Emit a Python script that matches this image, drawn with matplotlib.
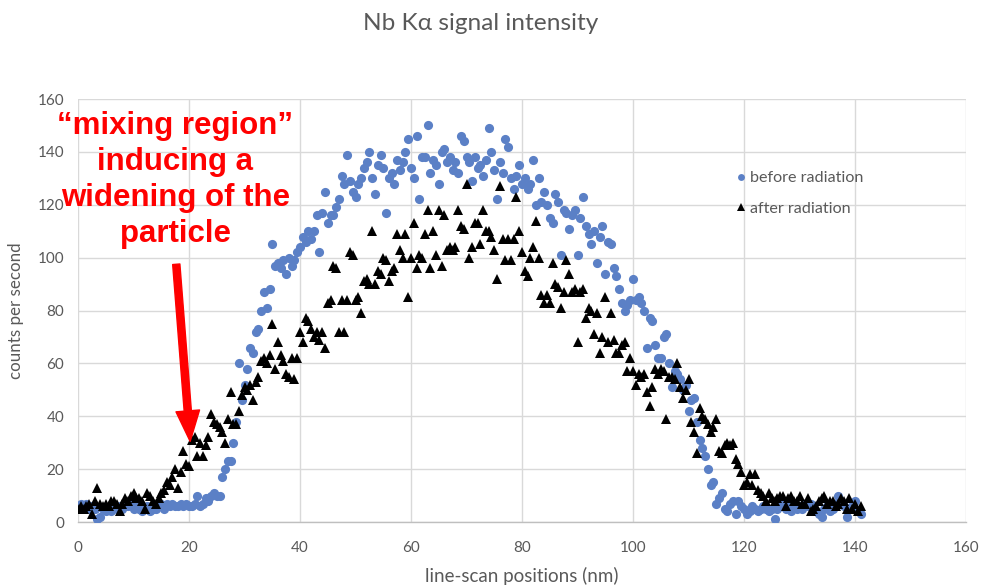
import numpy as np
import matplotlib
matplotlib.use("Agg")
import matplotlib.pyplot as plt

# ---------------- data ----------------
positions = np.arange(0, 141.01, 0.5)  # line-scan positions (nm)

before_radiation = [
    6, 7, 6, 7, 5, 6, 5, 1, 2, 5, 4, 5, 4, 6, 5, 6, 5, 6, 6, 7,
    5, 6, 5, 4, 5, 6, 4, 5, 5, 6, 7, 5, 7, 6, 7, 6, 6, 7, 6, 7,
    6, 6, 7, 10, 6, 7, 9, 8, 10, 11, 10, 10, 17, 20, 23, 23, 30, 38, 60, 46,
    52, 58, 66, 64, 72, 73, 80, 87, 81, 88, 105, 97, 98, 96, 99, 94, 100, 97, 99, 102,
    104, 108, 106, 110, 107, 110, 116, 102, 117, 125, 113, 116, 116, 119, 122, 131, 128, 139, 129, 125,
    123, 128, 130, 134, 136, 140, 130, 124, 135, 139, 134, 117, 130, 132, 128, 137, 133, 136, 140, 145,
    134, 130, 146, 122, 138, 138, 150, 132, 137, 135, 128, 140, 141, 136, 138, 133, 136, 132, 146, 144,
    138, 136, 129, 138, 134, 135, 131, 137, 149, 140, 133, 122, 136, 132, 145, 142, 130, 126, 131, 135,
    128, 130, 126, 128, 137, 120, 130, 121, 125, 120, 115, 113, 124, 121, 101, 118, 117, 111, 116, 118,
    101, 115, 123, 112, 109, 105, 110, 98, 108, 112, 94, 106, 105, 96, 93, 88, 83, 80, 82, 84,
    92, 84, 85, 83, 80, 66, 77, 76, 67, 62, 62, 70, 71, 60, 51, 57, 56, 54, 50, 52,
    42, 46, 47, 38, 31, 28, 25, 20, 14, 15, 7, 9, 11, 5, 4, 7, 8, 3, 8, 6,
    5, 3, 4, 6, 5, 4, 5, 6, 5, 4, 5, 1, 5, 6, 7, 5, 6, 4, 6, 5,
    6, 5, 7, 6, 7, 5, 4, 3, 2, 5, 6, 4, 5, 7, 10, 8, 6, 2, 5, 6,
    8, 4, 3,
]

after_radiation = [
    5, 6, 5, 6, 7, 3, 8, 13, 7, 6, 7, 6, 8, 8, 7, 4, 7, 9, 8, 10,
    11, 9, 9, 8, 5, 11, 10, 8, 7, 9, 11, 12, 15, 14, 17, 20, 13, 19, 27, 22,
    21, 31, 32, 25, 30, 25, 29, 32, 41, 38, 37, 36, 34, 30, 39, 49, 37, 37, 42, 48,
    51, 50, 52, 46, 53, 55, 61, 62, 60, 63, 75, 58, 68, 63, 61, 56, 55, 62, 54, 62,
    72, 68, 77, 76, 73, 70, 72, 69, 72, 66, 83, 84, 97, 96, 72, 84, 72, 84, 102, 101,
    84, 85, 79, 91, 92, 90, 110, 90, 95, 94, 100, 99, 91, 95, 96, 109, 103, 100, 109, 85,
    100, 113, 96, 101, 100, 109, 118, 96, 110, 101, 118, 97, 116, 103, 104, 103, 104, 118, 112, 111,
    128, 100, 104, 113, 113, 105, 118, 110, 110, 108, 103, 92, 127, 107, 99, 107, 99, 107, 123, 110,
    102, 95, 93, 100, 104, 114, 100, 86, 83, 86, 83, 98, 90, 89, 81, 87, 99, 94, 87, 88,
    68, 87, 88, 77, 81, 80, 71, 79, 64, 70, 85, 68, 79, 69, 64, 64, 67, 68, 57, 62,
    57, 52, 56, 55, 56, 49, 44, 51, 58, 56, 58, 57, 39, 55, 55, 54, 60, 51, 47, 50,
    54, 38, 34, 26, 43, 40, 39, 37, 34, 36, 39, 27, 26, 29, 30, 29, 30, 24, 22, 19,
    14, 15, 18, 14, 18, 12, 11, 10, 8, 11, 9, 8, 9, 10, 10, 6, 9, 10, 8, 8,
    10, 7, 7, 9, 4, 5, 6, 8, 9, 10, 7, 8, 8, 6, 7, 9, 8, 5, 9, 5,
    7, 4, 6,
]

x_ticks = [0, 20, 40, 60, 80, 100, 120, 140, 160]
y_ticks = [0, 20, 40, 60, 80, 100, 120, 140, 160]
title_text = "Nb Kα signal intensity"
x_label = "line-scan positions (nm)"
y_label = "counts per second"
series_labels = ["before radiation", "after radiation"]
annotation_text = "\u201cmixing region\u201d\ninducing a\nwidening of the\nparticle"
annotation_anchor = (17.5, 155.6)
arrow_tip = (20.2, 30.5)
arrow_tail = (17.7, 97.5)

# ---------------- plot ----------------
plt.rcParams['font.family'] = ['Lato', 'DejaVu Sans']
gray = '#595959'
blue = '#5b80c6'

fig = plt.figure(figsize=(9.83, 5.86), dpi=100)
ax = fig.add_axes([0.0794, 0.1092, 0.9033, 0.7218])

ax.plot(positions, before_radiation, linestyle='none', marker='o', markersize=6.6,
        color=blue, markeredgewidth=0, label=series_labels[0], zorder=3)
ax.plot(positions, after_radiation, linestyle='none', marker='^', markersize=7.8,
        color='black', markeredgewidth=0, label=series_labels[1], zorder=4)

ax.set_xlim(0, 160)
ax.set_ylim(0, 160)
ax.set_xticks(x_ticks)
ax.set_yticks(y_ticks)
ax.grid(True, color='#d9d9d9', linewidth=1.0)
ax.set_axisbelow(True)
for s in ['top', 'right', 'left']:
    ax.spines[s].set_visible(False)
ax.spines['bottom'].set_color('#bfbfbf')
ax.spines['bottom'].set_linewidth(1.0)
ax.tick_params(axis='both', length=0, labelsize=11, labelcolor=gray)
ax.tick_params(axis='x', pad=14)
ax.tick_params(axis='y', pad=10)

ax.set_xlabel(x_label, fontsize=13.5, color=gray, labelpad=8)
ax.set_ylabel(y_label, fontsize=12.2, color=gray, labelpad=10)
fig.text(0.489, 0.960, title_text, ha='center', va='center', fontsize=17.6, color=gray)

leg = ax.legend(loc='upper left', bbox_to_anchor=(0.731, 0.845), frameon=False,
                fontsize=11.6, handletextpad=0.1, labelspacing=1.0,
                markerscale=0.75, handlelength=0.9, borderaxespad=0)
for t in leg.get_texts():
    t.set_color(gray)

ax.text(annotation_anchor[0], annotation_anchor[1], annotation_text, ha='center', va='top',
        fontsize=22.5, fontweight='bold', color='#ff0000',
        family=['Liberation Sans', 'DejaVu Sans'], linespacing=1.26, zorder=6)

ax.annotate('', xy=arrow_tip, xytext=arrow_tail,
            arrowprops=dict(arrowstyle='simple,head_length=1.1,head_width=0.85,tail_width=0.26',
                            color='#ff0000', mutation_scale=20, shrinkA=0, shrinkB=0),
            zorder=6)

fig.savefig('out.png', dpi=100)
